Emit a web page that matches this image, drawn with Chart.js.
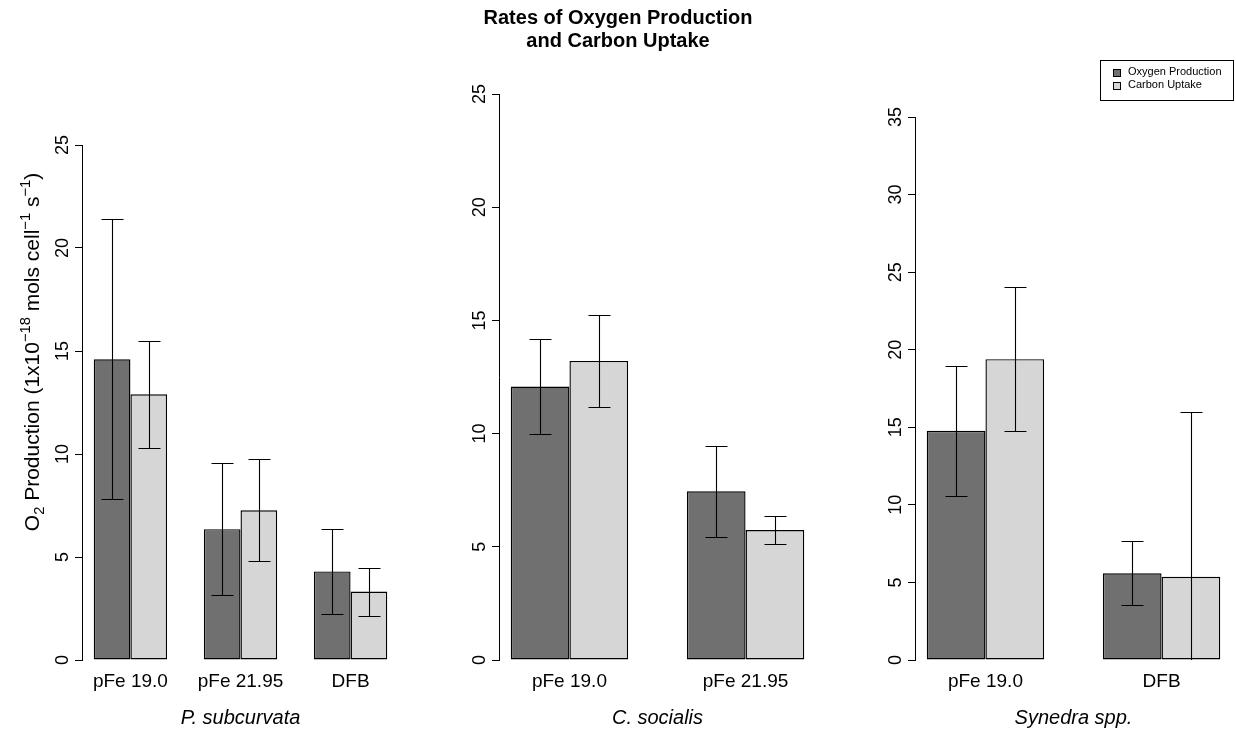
<!DOCTYPE html>
<html>
<head>
<meta charset="utf-8">
<title>Rates of Oxygen Production and Carbon Uptake</title>
<script src="https://cdn.jsdelivr.net/npm/chart.js@4.4.1/dist/chart.umd.min.js"></script>
<style>
  html, body { margin: 0; padding: 0; background: #fff; overflow: hidden; }
  #fig { position: relative; width: 1236px; height: 730px; }
  #fig canvas { position: absolute; top: 0; }
</style>
</head>
<body>
<div id="fig">
  <canvas id="p1" width="410" height="730" style="left:0px"></canvas>
  <canvas id="p2" width="406" height="730" style="left:420px"></canvas>
  <canvas id="p3" width="396" height="730" style="left:840px"></canvas>
</div>
<script>
// ---------- Data ----------
const seriesNames = ['Oxygen Production', 'Carbon Uptake'];
const seriesColors = ['#707070', '#d6d6d6'];

// P. subcurvata
const subcurvataGroups = ['pFe 19.0', 'pFe 21.95', 'DFB'];
const subcurvataO2 = [14.6, 6.35, 4.3];
const subcurvataO2Err = [6.8, 3.2, 2.08];
const subcurvataC = [12.9, 7.27, 3.32];
const subcurvataCErr = [2.6, 2.48, 1.16];

// C. socialis
const socialisGroups = ['pFe 19.0', 'pFe 21.95'];
const socialisO2 = [12.08, 7.45];
const socialisO2Err = [2.1, 2.0];
const socialisC = [13.21, 5.74];
const socialisCErr = [2.04, 0.62];

// Synedra spp.
const synedraGroups = ['pFe 19.0', 'DFB'];
const synedraO2 = [14.77, 5.59];
const synedraO2Err = [4.17, 2.06];
const synedraC = [19.39, 5.36];
const synedraCErr = [4.63, 10.63];

const yTop = [25, 25, 35];
const yStep = 5;

const FAMILY = '"Liberation Sans", Arial, Helvetica, sans-serif';
Chart.defaults.font.family = FAMILY;
Chart.defaults.color = '#000';

// ---------- Plugins ----------
// whiskers: vertical line +/- error with flat caps, clipped to the plot area
const errorBars = {
  id: 'errorBars',
  afterDatasetsDraw(chart, args, o) {
    const { ctx, chartArea: a, scales: { y } } = chart;
    ctx.save();
    ctx.beginPath();
    ctx.rect(a.left, a.top - 1, a.right - a.left, a.bottom - a.top + 1);
    ctx.clip();
    ctx.strokeStyle = o.color;
    ctx.lineWidth = o.width;
    chart.data.datasets.forEach((ds, di) => {
      chart.getDatasetMeta(di).data.forEach((bar, i) => {
        const v = ds.data[i].y, e = ds.errorBars[i];
        const x = Math.round(bar.x) + 0.5;
        const hi = Math.round(y.getPixelForValue(v + e)) + 0.5;
        const lo = Math.round(y.getPixelForValue(v - e)) + 0.5;
        ctx.beginPath();
        ctx.moveTo(x, lo); ctx.lineTo(x, hi);
        ctx.moveTo(x - o.cap, hi); ctx.lineTo(x + o.cap, hi);
        ctx.moveTo(x - o.cap, lo); ctx.lineTo(x + o.cap, lo);
        ctx.stroke();
      });
    });
    ctx.restore();
  }
};

// text with sub/superscript pieces, centred on (0,0) of the current transform
function drawRich(ctx, parts, size) {
  const small = size * 0.7;
  const fontFor = lvl => (lvl === 0 ? size : small) + 'px ' + FAMILY;
  let total = 0;
  parts.forEach(([t, lvl]) => { ctx.font = fontFor(lvl); total += ctx.measureText(t).width; });
  let x = -total / 2;
  ctx.textAlign = 'left';
  ctx.textBaseline = 'alphabetic';
  parts.forEach(([t, lvl]) => {
    ctx.font = fontFor(lvl);
    const dy = lvl < 0 ? size * 0.25 : lvl > 0 ? -size * 0.45 : 0;
    ctx.fillText(t, x, dy);
    x += ctx.measureText(t).width;
  });
}

// y tick labels written parallel to the axis, plus optional axis title
const yTickText = {
  id: 'yTickText',
  afterDraw(chart, args, o) {
    const { ctx, chartArea: a, scales: { y } } = chart;
    ctx.save();
    ctx.fillStyle = '#000';
    ctx.font = o.size + 'px ' + FAMILY;
    ctx.textAlign = 'center';
    ctx.textBaseline = 'alphabetic';
    y.ticks.forEach((t, i) => {
      ctx.save();
      ctx.translate(a.left - o.gap, y.getPixelForTick(i));
      ctx.rotate(-Math.PI / 2);
      ctx.fillText(t.label != null ? String(t.label) : String(t.value), 0, 0);
      ctx.restore();
    });
    if (o.title) {
      ctx.translate(o.title.x, o.title.y);
      ctx.rotate(-Math.PI / 2);
      drawRich(ctx, o.title.parts, o.title.size);
    }
    ctx.restore();
  }
};

// boxed legend built from the dataset labels and fills
const boxLegend = {
  id: 'boxLegend',
  afterDraw(chart, args, o) {
    if (!o.show) return;
    const ctx = chart.ctx;
    ctx.save();
    ctx.strokeStyle = '#000';
    ctx.lineWidth = 1;
    ctx.strokeRect(o.left + 0.5, o.top + 0.5, o.width, o.height);
    ctx.font = o.size + 'px ' + FAMILY;
    ctx.textAlign = 'left';
    ctx.textBaseline = 'middle';
    chart.data.datasets.forEach((ds, i) => {
      const cy = o.firstRow + i * o.rowGap;
      const sy = Math.round(cy - o.swatch / 2) + 0.5;
      ctx.fillStyle = ds.backgroundColor;
      ctx.fillRect(o.swatchX + 0.5, sy, o.swatch, o.swatch);
      ctx.strokeRect(o.swatchX + 0.5, sy, o.swatch, o.swatch);
      ctx.fillStyle = '#000';
      ctx.fillText(ds.label, o.textX, cy);
    });
    ctx.restore();
  }
};

// ---------- Panel builder ----------
// bars sit at [1,2],[2,3] / [4,5],[5,6] ... with group centres 2, 5, 8
function makePanel(id, p) {
  const n = p.groups.length;
  const centres = p.groups.map((_, k) => 2 + 3 * k);
  const span = 3 * n - 1;
  const xMin = 1 - 0.04 * span, xMax = 3 * n + 0.04 * span;

  const series = [[p.o2, p.o2Err], [p.c, p.cErr]];
  const datasets = series.map(([vals, errs], s) => ({
    label: seriesNames[s],
    data: vals.map((v, k) => ({ x: centres[k], y: v })),
    errorBars: errs,
    backgroundColor: seriesColors[s],
    borderColor: '#000',
    borderWidth: 1.4,
    borderSkipped: false,
    categoryPercentage: 2 / 3,
    barPercentage: 1
  }));

  return new Chart(document.getElementById(id), {
    type: 'bar',
    data: { datasets },
    plugins: [errorBars, yTickText, boxLegend],
    options: {
      responsive: false,
      animation: false,
      events: [],
      layout: { padding: { left: 0, right: p.padRight, top: p.padTop, bottom: 0 } },
      scales: {
        x: {
          type: 'linear',
          min: xMin, max: xMax,
          bounds: 'data',
          offset: false,
          afterBuildTicks: s => { s.ticks = centres.map(v => ({ value: v })); },
          afterFit: s => { s.height = 70; },
          grid: { display: false },
          border: { display: false },
          ticks: {
            autoSkip: false, maxRotation: 0, minRotation: 0,
            padding: 2, color: '#000',
            font: { size: 19 },
            callback: (v, i) => p.groups[i]
          },
          title: {
            display: true, text: p.species, color: '#000',
            font: { size: 20, style: 'italic', lineHeight: 1.2 },
            padding: { top: 0, bottom: 0 }
          }
        },
        y: {
          min: 0, max: p.yMax,
          afterFit: s => { s.width = p.axisX; },
          ticks: { display: false, stepSize: yStep },
          grid: { display: true, drawOnChartArea: false, drawTicks: true, tickLength: 7, color: '#000', lineWidth: 1 },
          border: { display: true, color: '#000', width: 1 }
        }
      },
      plugins: {
        legend: { display: false },
        tooltip: { enabled: false },
        title: p.title ? {
          display: true, text: p.title, color: '#000',
          font: { size: 20, weight: 'bold', lineHeight: 1.15 },
          padding: { top: 6.5, bottom: 41.5 }
        } : { display: false },
        errorBars: { color: '#000', cap: 11, width: 1.1 },
        yTickText: { size: 18, gap: 14, title: p.yTitle || null },
        boxLegend: p.legend || { show: false }
      }
    }
  });
}

// ---------- Charts ----------
makePanel('p1', {
  groups: subcurvataGroups, o2: subcurvataO2, o2Err: subcurvataO2Err,
  c: subcurvataC, cErr: subcurvataCErr, species: 'P. subcurvata',
  yMax: yTop[0], axisX: 82, padRight: 11, padTop: 145,
  yTitle: {
    x: 39, y: 352, size: 21,
    parts: [['O', 0], ['2', -1], [' Production (1x10', 0], ['\u221218', 1],
            [' mols cell', 0], ['\u22121', 1], [' s', 0], ['\u22121', 1], [')', 0]]
  }
});

makePanel('p2', {
  groups: socialisGroups, o2: socialisO2, o2Err: socialisO2Err,
  c: socialisC, cErr: socialisCErr, species: 'C. socialis',
  yMax: yTop[1], axisX: 79, padRight: 10, padTop: 0,
  title: ['Rates of Oxygen Production', 'and Carbon Uptake']
});

makePanel('p3', {
  groups: synedraGroups, o2: synedraO2, o2Err: synedraO2Err,
  c: synedraC, cErr: synedraCErr, species: 'Synedra spp.',
  yMax: yTop[2], axisX: 75, padRight: 4, padTop: 117,
  legend: { show: true, left: 260, top: 60, width: 133, height: 40,
            swatchX: 273, swatch: 7, textX: 288, firstRow: 72, rowGap: 13, size: 11 }
});
</script>
</body>
</html>
